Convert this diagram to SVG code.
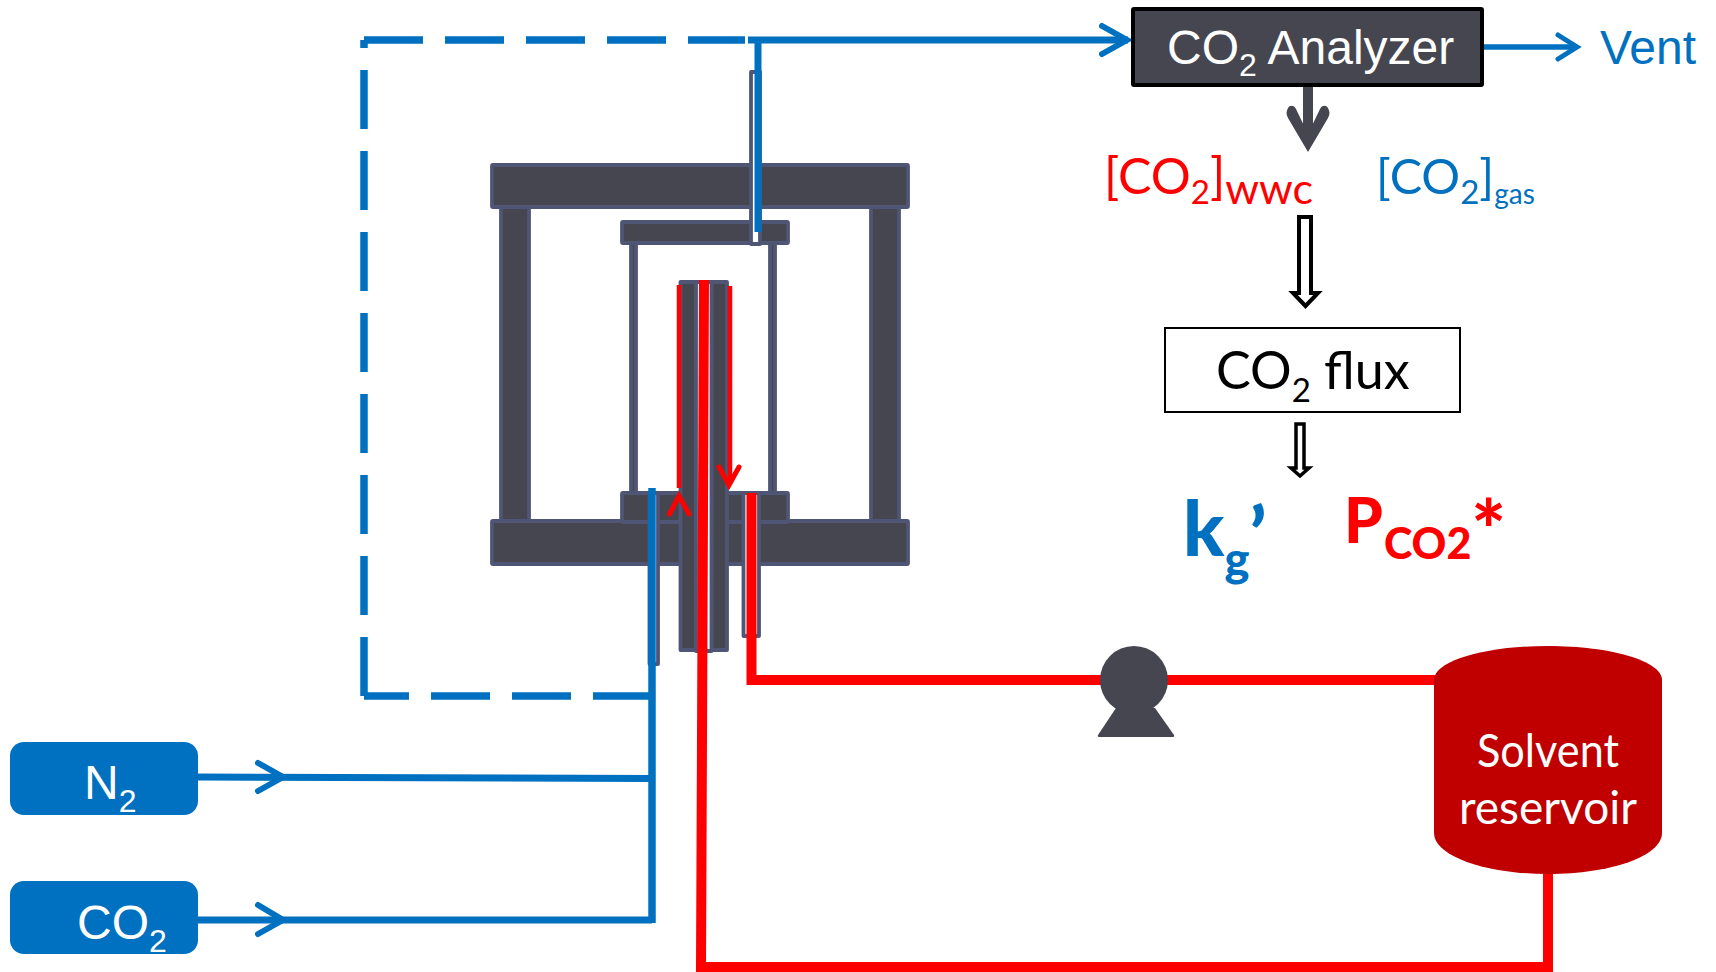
<svg xmlns="http://www.w3.org/2000/svg" width="1716" height="972" viewBox="0 0 1716 972">
<style>
.part{fill:#464650;stroke:#4f5575;stroke-width:3.8;stroke-linejoin:round}
.tube{fill:#fff;stroke:#4f5575;stroke-width:3.8;stroke-linejoin:round}
.b{fill:none;stroke:#0070c0;stroke-width:7}
.bd{fill:none;stroke:#0070c0;stroke-width:7.5;stroke-dasharray:59 22}
.bh{fill:none;stroke:#0070c0;stroke-width:6;stroke-linecap:round;stroke-linejoin:miter}
.r{fill:none;stroke:#f00;stroke-width:10}
.rt{fill:none;stroke:#f00;stroke-width:4.5}
.rh{fill:none;stroke:#f00;stroke-width:5;stroke-linecap:round}
.hollow{fill:#fff;stroke:#000;stroke-width:4;stroke-linejoin:miter}
.ar{font-family:"Liberation Sans",Arial,sans-serif}
.la{font-family:Lato,"Noto Sans",sans-serif}
</style>
<g id="apparatus">
<rect class="part" x="501" y="205" width="28" height="317"/>
<rect class="part" x="871" y="205" width="28" height="317"/>
<rect class="part" x="492" y="165" width="416" height="42" rx="1"/>
<rect class="part" x="492" y="521" width="416" height="43" rx="1"/>
<rect class="part" x="631" y="243" width="5" height="250"/>
<rect class="part" x="770" y="243" width="5" height="250"/>
<rect class="part" x="622" y="222" width="166" height="21" rx="1"/>
<rect class="part" x="622" y="493" width="166" height="29" rx="1"/>
<rect class="tube" x="751" y="72" width="9" height="172"/>
<rect class="tube" x="649.5" y="493" width="8.5" height="171"/>
<rect class="tube" x="743.5" y="493" width="15.5" height="143"/>
<rect class="part" x="680.5" y="282" width="15.5" height="368"/>
<rect class="part" x="711.5" y="282" width="15.5" height="368"/>
<rect class="tube" x="696" y="282" width="15.5" height="369"/>
</g>
<g id="connectors">
<path class="bd" d="M364 40H745"/>
<path class="bd" d="M364 696V40"/>
<path class="bd" d="M652 696H364"/>
<path class="b" d="M748 40H1128"/>
<path class="b" d="M758 40V232"/>
<polyline class="bh" points="1102,26 1127,40 1102,54"/>
<path class="b" d="M1484 47H1574" style="stroke-width:5.5"/>
<polyline class="bh" points="1558,35 1577,47 1558,59" style="stroke-width:5"/>
<path class="b" d="M652 488V923" style="stroke-width:7.5"/>
<path class="b" d="M198 777L652 778.5"/>
<polyline class="bh" points="258,763 283,777 258,791"/>
<path class="b" d="M198 920H652"/>
<polyline class="bh" points="258,905 283,920 258,934"/>
<path class="r" d="M704 280L701 967H1548V874"/>
<path class="r" d="M751.5 493V680H1436"/>
<path class="rt" d="M679 285V488"/>
<polyline class="rh" points="669.5,514 679,496 689,514"/>
<path class="rt" d="M730 286V484"/>
<polyline class="rh" points="719,467 729,485 739,467"/>
<path d="M1308 87V140" fill="none" stroke="#464650" stroke-width="10"/>
<path d="M1288 108C1286 112 1286 114 1288 118L1308 152L1328 118C1330 114 1330 112 1328 108C1326 105 1322 105 1320 109L1308 134L1296 109C1294 105 1290 105 1288 108Z" fill="#464650"/>
<path class="hollow" d="M1299 217H1311V293H1318L1305.5 306L1293 293H1299Z"/>
<path class="hollow" d="M1296 424H1304V468H1309L1300 476L1291 468H1296Z" style="stroke-width:3.5"/>
</g>
<g id="analyzer">
<rect x="1133" y="9" width="349" height="76" fill="#464650" stroke="#000" stroke-width="4" rx="1"/>
<text class="ar" x="1167" y="64" font-size="48" fill="#fff">CO<tspan dy="12" font-size="32">2</tspan><tspan dy="-12"> Analyzer</tspan></text>
</g>
<g id="vent"><text class="ar" x="1600" y="64" font-size="48" fill="#0070c0">Vent</text></g>
<g id="co2-wwc"><text class="la" x="1104" y="194" font-size="50" fill="#f00">[CO<tspan dy="10" font-size="33">2</tspan><tspan dy="-10">]</tspan><tspan dy="10" font-size="43">wwc</tspan></text></g>
<g id="co2-gas"><text class="la" x="1376" y="194" font-size="48.5" fill="#0070c0">[CO<tspan dy="10" font-size="33">2</tspan><tspan dy="-10">]</tspan><tspan dy="10" font-size="28">gas</tspan></text></g>
<g id="flux">
<rect x="1165" y="328" width="295" height="84" fill="#fff" stroke="#000" stroke-width="2"/>
<text class="la" x="1216" y="389" font-size="52" fill="#000">CO<tspan dy="13" font-size="33">2</tspan><tspan dy="-13"> flux</tspan></text>
</g>
<g id="kg"><text class="la" x="1183" y="556" font-size="76" font-weight="900" fill="#0070c0">k<tspan dy="20" font-size="47">g</tspan><tspan dy="-14" dx="0">’</tspan></text></g>
<g id="pco2"><text class="la" x="1344" y="543" font-size="62" font-weight="900" fill="#f00">P<tspan dy="16" dx="1" font-size="43">CO2</tspan><tspan dy="1" font-size="82">*</tspan></text></g>
<g id="pump">
<path d="M1116 708L1098 735Q1097 737 1100 737H1172Q1175 737 1174 735L1155 708Z" fill="#464650"/>
<ellipse cx="1134" cy="680" rx="34" ry="34" fill="#464650"/>
</g>
<g id="reservoir">
<path d="M1434 680C1434 661 1485 646 1548 646S1662 661 1662 680V833C1662 856 1611 874 1548 874S1434 856 1434 833Z" fill="#c00000"/>
<text class="la" x="1548" y="767" font-size="46" fill="#fff" text-anchor="middle" textLength="142" lengthAdjust="spacingAndGlyphs">Solvent</text>
<text class="la" x="1548" y="824" font-size="46" fill="#fff" text-anchor="middle">reservoir</text>
</g>
<g id="n2">
<rect x="10" y="742" width="188" height="73" rx="14" fill="#0070c0"/>
<text class="ar" x="84" y="799" font-size="48" fill="#fff">N<tspan dy="13" font-size="32">2</tspan></text>
</g>
<g id="co2">
<rect x="10" y="881" width="188" height="73" rx="14" fill="#0070c0"/>
<text class="ar" x="77" y="939" font-size="48" fill="#fff">CO<tspan dy="13" font-size="32">2</tspan></text>
</g>
</svg>
